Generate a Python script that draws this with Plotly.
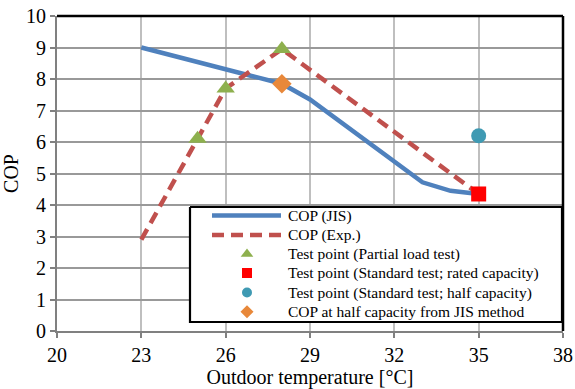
import plotly.graph_objects as go

# Heat pump COP versus outdoor temperature
jis_temp = [23, 24, 25, 26, 27, 28, 29, 30, 31, 32, 33, 34, 35]
jis_cop = [9.0, 8.77, 8.53, 8.3, 8.07, 7.85, 7.35, 6.7, 6.05, 5.4, 4.72, 4.45, 4.35]

exp_temp = [23, 25, 26, 28, 35]
exp_cop = [2.9, 6.1, 7.7, 8.95, 4.35]

partial_temp = [25, 26, 28]
partial_cop = [6.1, 7.7, 8.95]

rated_temp = [35]
rated_cop = [4.35]

half_temp = [35]
half_cop = [6.2]

jis_half_temp = [28]
jis_half_cop = [7.85]

x_ticks = [20, 23, 26, 29, 32, 35, 38]
y_ticks = list(range(0, 11))

legend_labels = [
    "COP (JIS)",
    "COP (Exp.)",
    "Test point (Partial load test)",
    "Test point (Standard test; rated capacity)",
    "Test point (Standard test; half capacity)",
    "COP at half capacity from JIS method",
]

FONT = "Liberation Serif"
C_JIS = "#4F81BD"
C_EXP = "#C0504D"
C_TRI = "#8EB04E"
C_SQ = "#FF0000"
C_CIR = "#3F9AB3"
C_DIA = "#E8883A"
EXP_DASH = "12px,7px"

fig = go.Figure()
fig.add_trace(go.Scatter(x=jis_temp, y=jis_cop, mode="lines", showlegend=False,
                         line=dict(color=C_JIS, width=4.5)))
fig.add_trace(go.Scatter(x=exp_temp, y=exp_cop, mode="lines", showlegend=False,
                         line=dict(color=C_EXP, width=4.5, dash=EXP_DASH)))
fig.add_trace(go.Scatter(x=partial_temp, y=partial_cop, mode="markers", showlegend=False,
                         marker=dict(symbol="triangle-up", color=C_TRI, size=16)))
fig.add_trace(go.Scatter(x=rated_temp, y=rated_cop, mode="markers", showlegend=False,
                         marker=dict(symbol="square", color=C_SQ, size=15)))
fig.add_trace(go.Scatter(x=half_temp, y=half_cop, mode="markers", showlegend=False,
                         marker=dict(symbol="circle", color=C_CIR, size=15)))
fig.add_trace(go.Scatter(x=jis_half_temp, y=jis_half_cop, mode="markers", showlegend=False,
                         marker=dict(symbol="diamond", color=C_DIA, size=15)))

# Legend box drawn on a pixel-unit overlay axis pair (x2/y2) so it sits above the data
box_l, box_r, box_t, box_b = 190, 562, 207, 322
row_y = [215.5, 235, 254, 273, 292.5, 311.7]
key_l, key_r, key_c, text_x = 212, 281, 247, 286

fig.add_trace(go.Scatter(x=[box_l, box_r, box_r, box_l, box_l],
                         y=[box_t, box_t, box_b, box_b, box_t],
                         xaxis="x2", yaxis="y2", mode="lines", fill="toself",
                         fillcolor="white", line=dict(color="black", width=2.2),
                         hoverinfo="skip", showlegend=False))
fig.add_trace(go.Scatter(x=[key_l, key_r], y=[row_y[0]] * 2, xaxis="x2", yaxis="y2",
                         mode="lines", line=dict(color=C_JIS, width=4.5),
                         hoverinfo="skip", showlegend=False))
fig.add_trace(go.Scatter(x=[key_l, key_r], y=[row_y[1]] * 2, xaxis="x2", yaxis="y2",
                         mode="lines", line=dict(color=C_EXP, width=4.5, dash=EXP_DASH),
                         hoverinfo="skip", showlegend=False))
for yy, sym, col, sz in [(row_y[2], "triangle-up", C_TRI, 11),
                         (row_y[3], "square", C_SQ, 10),
                         (row_y[4], "circle", C_CIR, 10),
                         (row_y[5], "diamond", C_DIA, 10)]:
    fig.add_trace(go.Scatter(x=[key_c], y=[yy], xaxis="x2", yaxis="y2", mode="markers",
                             marker=dict(symbol=sym, color=col, size=sz),
                             hoverinfo="skip", showlegend=False))
for yy, label in zip(row_y, legend_labels):
    fig.add_annotation(x=text_x, y=yy, xref="x2", yref="y2", text=label,
                       showarrow=False, xanchor="left", yanchor="middle",
                       font=dict(family=FONT, size=15.5, color="black"))

# black frame on the top and right sides of the plot area
fig.add_shape(type="line", xref="paper", yref="paper", x0=0, x1=1, y0=1, y1=1,
              line=dict(color="black", width=2.5))
fig.add_shape(type="line", xref="paper", yref="paper", x0=1, x1=1, y0=0, y1=1,
              line=dict(color="black", width=2.5))

fig.update_layout(
    width=575, height=389,
    margin=dict(l=57, r=12, t=16, b=58),
    paper_bgcolor="white", plot_bgcolor="white",
    font=dict(family=FONT, color="black"),
    showlegend=False,
    xaxis=dict(range=[20, 38], tickvals=x_ticks, showgrid=True, automargin=False,
               gridcolor="#BFBFBF", gridwidth=1.5, zeroline=False,
               showline=True, linecolor="#808080", linewidth=2,
               ticks="outside", ticklen=5, tickcolor="#808080", tickwidth=1.5,
               tickfont=dict(size=20),
               title=dict(text="Outdoor temperature [°C]", font=dict(size=20), standoff=6)),
    yaxis=dict(range=[0, 10], tickvals=y_ticks, showgrid=True, automargin=False,
               gridcolor="#999999", gridwidth=1.5, zeroline=False,
               showline=True, linecolor="#808080", linewidth=2,
               ticks="outside", ticklen=5, tickcolor="#808080", tickwidth=1.5,
               tickfont=dict(size=20),
               title=dict(text="COP", font=dict(size=20), standoff=4)),
    xaxis2=dict(overlaying="x", range=[57, 563], visible=False, fixedrange=True),
    yaxis2=dict(overlaying="y", range=[331, 16], visible=False, fixedrange=True),
)

fig.write_html("out.html")
